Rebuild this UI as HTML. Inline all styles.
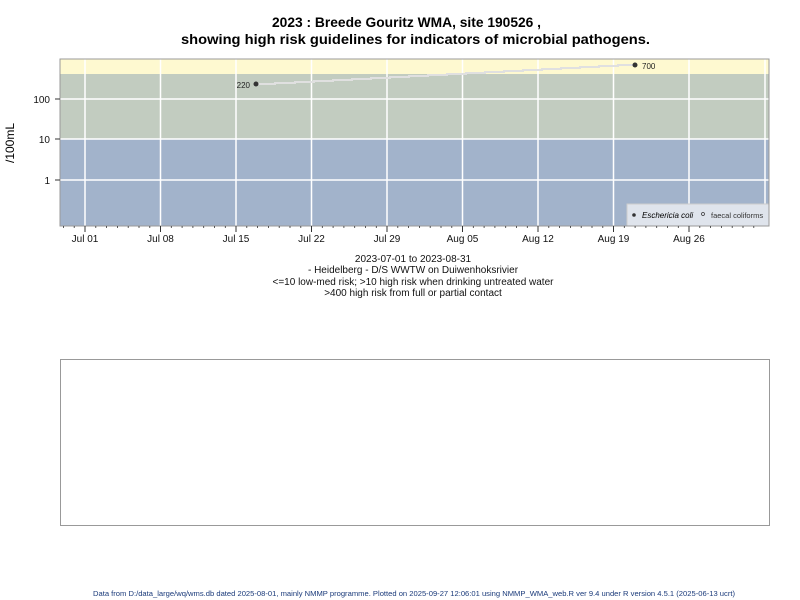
<!DOCTYPE html>
<html><head><meta charset="utf-8"><style>
body{margin:0;background:#fff;}
svg{display:block;font-family:"Liberation Sans",Arial,sans-serif;}
</style></head><body>
<svg width="800" height="600" viewBox="0 0 800 600">
<text x="272" y="27" font-size="14" font-weight="bold" textLength="269" lengthAdjust="spacingAndGlyphs">2023 : Breede Gouritz WMA, site 190526 ,</text>
<text x="181" y="44" font-size="14" font-weight="bold" textLength="469" lengthAdjust="spacingAndGlyphs">showing high risk guidelines for indicators of microbial pathogens.</text>
<rect x="60" y="59" width="709" height="15" fill="#fef9d0"/>
<rect x="60" y="74" width="709" height="65" fill="#c2ccc0"/>
<rect x="60" y="139" width="709" height="87" fill="#a2b3cb"/>
<g stroke="#fff" stroke-width="1.5">
<line x1="60" y1="99" x2="769" y2="99"/><line x1="60" y1="139" x2="769" y2="139"/><line x1="60" y1="180" x2="769" y2="180"/>
<line x1="85" y1="59" x2="85" y2="226"/><line x1="160.5" y1="59" x2="160.5" y2="226"/><line x1="236" y1="59" x2="236" y2="226"/><line x1="311.5" y1="59" x2="311.5" y2="226"/><line x1="387" y1="59" x2="387" y2="226"/><line x1="462.5" y1="59" x2="462.5" y2="226"/><line x1="538" y1="59" x2="538" y2="226"/><line x1="613.5" y1="59" x2="613.5" y2="226"/><line x1="689" y1="59" x2="689" y2="226"/><line x1="765" y1="59" x2="765" y2="226"/>
</g>
<polyline fill="none" stroke="#e0e0e0" stroke-width="2" points="256,84 275,84 275,83 295,83 295,82 314,82 314,81 333,81 333,80 352,80 352,79 371,79 371,78 390,78 390,77 409,77 409,76 428,76 428,75 447,75 447,74 466,74 466,73 485,73 485,72 504,72 504,71 523,71 523,70 542,70 542,69 561,69 561,68 580,68 580,67 599,67 599,66 618,66 618,65 635,65"/>
<circle cx="256" cy="84" r="2.5" fill="#333"/>
<circle cx="635" cy="65" r="2.5" fill="#333"/>
<text x="250" y="88" font-size="8" text-anchor="end" fill="#222">220</text>
<text x="642" y="69" font-size="8" fill="#222">700</text>
<rect x="627" y="204" width="142" height="22" fill="#dfe4ec" stroke="#ccc"/>
<circle cx="634" cy="215" r="1.8" fill="#333"/>
<text x="642" y="218" font-size="8" font-style="italic">Eschericia coli</text>
<circle cx="703" cy="214" r="1.5" fill="none" stroke="#333" stroke-width="0.7"/>
<text x="711" y="218" font-size="7.5" fill="#333">faecal coliforms</text>
<rect x="60" y="59" width="709" height="167" fill="none" stroke="#999" stroke-width="1"/>
<g stroke="#333" stroke-width="1">
<line x1="55" y1="99" x2="60" y2="99"/><line x1="55" y1="139" x2="60" y2="139"/><line x1="55" y1="180" x2="60" y2="180"/>
<line x1="85" y1="226" x2="85" y2="232"/><line x1="160.5" y1="226" x2="160.5" y2="232"/><line x1="236" y1="226" x2="236" y2="232"/><line x1="311.5" y1="226" x2="311.5" y2="232"/><line x1="387" y1="226" x2="387" y2="232"/><line x1="462.5" y1="226" x2="462.5" y2="232"/><line x1="538" y1="226" x2="538" y2="232"/><line x1="613.5" y1="226" x2="613.5" y2="232"/><line x1="689" y1="226" x2="689" y2="232"/>
</g>
<path stroke="#333" stroke-width="0.8" d="M63.4 226v2M74.2 226v2M95.8 226v2M106.6 226v2M117.4 226v2M128.2 226v2M139 226v2M149.8 226v2M171.3 226v2M182.1 226v2M192.9 226v2M203.7 226v2M214.5 226v2M225.3 226v2M246.8 226v2M257.6 226v2M268.4 226v2M279.2 226v2M290 226v2M300.8 226v2M322.3 226v2M333.1 226v2M343.9 226v2M354.7 226v2M365.5 226v2M376.3 226v2M397.8 226v2M408.6 226v2M419.4 226v2M430.2 226v2M441 226v2M451.8 226v2M473.3 226v2M484.1 226v2M494.9 226v2M505.7 226v2M516.5 226v2M527.3 226v2M548.8 226v2M559.6 226v2M570.4 226v2M581.2 226v2M592 226v2M602.8 226v2M624.3 226v2M635.1 226v2M645.9 226v2M656.7 226v2M667.5 226v2M678.3 226v2M699.8 226v2M710.6 226v2M721.4 226v2M732.2 226v2M743 226v2M753.8 226v2"/>
<g font-size="10" text-anchor="end" fill="#111">
<text x="50" y="103">100</text><text x="50" y="143">10</text><text x="50" y="184">1</text>
</g>
<text x="14" y="143" font-size="12" text-anchor="middle" transform="rotate(-90 14 143)">/100mL</text>
<g font-size="10" text-anchor="middle" fill="#111">
<text x="85" y="242">Jul 01</text><text x="160.5" y="242">Jul 08</text><text x="236" y="242">Jul 15</text><text x="311.5" y="242">Jul 22</text><text x="387" y="242">Jul 29</text><text x="462.5" y="242">Aug 05</text><text x="538" y="242">Aug 12</text><text x="613.5" y="242">Aug 19</text><text x="689" y="242">Aug 26</text>
</g>
<g font-size="10" text-anchor="middle" fill="#111">
<text x="413" y="262">2023-07-01 to 2023-08-31</text>
<text x="413" y="273">- Heidelberg - D/S WWTW on Duiwenhoksrivier</text>
<text x="413" y="285">&lt;=10 low-med risk; &gt;10 high risk when drinking untreated water</text>
<text x="413" y="296">&gt;400 high risk from full or partial contact</text>
</g>
<rect x="60.5" y="359.5" width="709" height="166" fill="none" stroke="#999"/>
<text x="93" y="596" font-size="7.5" fill="#1a3a7a" textLength="642" lengthAdjust="spacingAndGlyphs">Data from D:/data_large/wq/wms.db dated 2025-08-01, mainly NMMP programme. Plotted on 2025-09-27 12:06:01 using NMMP_WMA_web.R ver 9.4 under R version 4.5.1 (2025-06-13 ucrt)</text>
</svg>
</body></html>
